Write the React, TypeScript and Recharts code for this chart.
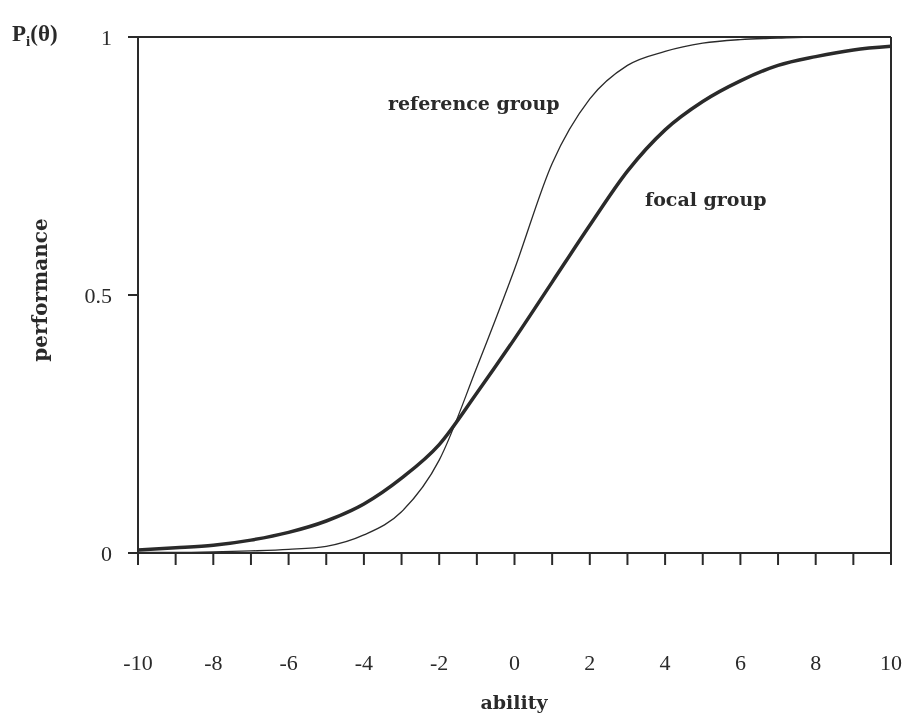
import React from 'react';
import { LineChart, Line, XAxis, YAxis, ReferenceLine, Customized } from 'recharts';

// ability values (x)
const ability = [-10, -9, -8, -7, -6, -5, -4, -3, -2, -1, 0, 1, 2, 3, 4, 5, 6, 7, 8, 9, 10];
// P_i(theta)
const focalGroup = [0.006, 0.01, 0.015, 0.025, 0.04, 0.062, 0.095, 0.145, 0.21, 0.31, 0.415, 0.525, 0.635, 0.74, 0.82, 0.875, 0.915, 0.945, 0.962, 0.975, 0.982];
const referenceGroup = [0.001, 0.001, 0.002, 0.004, 0.007, 0.013, 0.035, 0.08, 0.18, 0.36, 0.55, 0.755, 0.88, 0.945, 0.972, 0.988, 0.995, 0.998, 1, 1, 1];

const xTicks = ability;
const yTicks = [0, 0.5, 1];

const data = ability.map((a, i) => ({
  ability: a,
  focal: focalGroup[i],
  reference: referenceGroup[i],
}));

const ink = '#2a2a2a';
const serif = '"Liberation Serif", "Times New Roman", serif';
const labelFont = '"DejaVu Serif", serif';

const Annotations = () => (
  <g fill={ink} fontWeight="bold">
    <text x={12} y={41} fontSize={23} fontFamily={serif}>
      P<tspan fontSize={15} dy={5}>i</tspan>
      <tspan fontSize={23} dy={-5}>(θ)</tspan>
    </text>
    <g fontFamily={labelFont}>
      <text x={388} y={110} fontSize={19}>reference group</text>
      <text x={645} y={206} fontSize={19}>focal group</text>
      <text x={514} y={709} fontSize={19} textAnchor="middle">ability</text>
      <text
        x={40}
        y={290}
        fontSize={20}
        textAnchor="middle"
        dominantBaseline="central"
        transform="rotate(-90 40 290)"
      >
        performance
      </text>
    </g>
  </g>
);

export default function App() {
  return (
    <div style={{ position: 'fixed', left: 0, top: 0 }}>
      <LineChart
        width={906}
        height={721}
        data={data}
        margin={{ top: 37, right: 15, left: 78, bottom: 68 }}
      >
        <XAxis
          dataKey="ability"
          type="number"
          domain={[-10, 10]}
          ticks={xTicks}
          interval={0}
          tickFormatter={(v) => (v % 2 === 0 ? String(v) : '')}
          height={100}
          tickSize={12}
          tickMargin={89}
          axisLine={{ stroke: ink, strokeWidth: 2 }}
          tickLine={{ stroke: ink, strokeWidth: 2 }}
          tick={{ fill: ink, fontSize: 22, fontFamily: serif }}
        />
        <YAxis
          type="number"
          domain={[0, 1]}
          ticks={yTicks}
          width={60}
          tickSize={10}
          tickMargin={16}
          tickFormatter={(v) => String(v)}
          axisLine={{ stroke: ink, strokeWidth: 2 }}
          tickLine={{ stroke: ink, strokeWidth: 2 }}
          tick={{ fill: ink, fontSize: 22, fontFamily: serif }}
        />
        <ReferenceLine y={1} stroke={ink} strokeWidth={2} />
        <ReferenceLine x={10} stroke={ink} strokeWidth={2} />
        <Line
          type="monotone"
          dataKey="reference"
          stroke={ink}
          strokeWidth={1.3}
          dot={false}
          isAnimationActive={false}
        />
        <Line
          type="monotone"
          dataKey="focal"
          stroke={ink}
          strokeWidth={3.5}
          dot={false}
          isAnimationActive={false}
        />
        <Customized component={<Annotations />} />
      </LineChart>
    </div>
  );
}
